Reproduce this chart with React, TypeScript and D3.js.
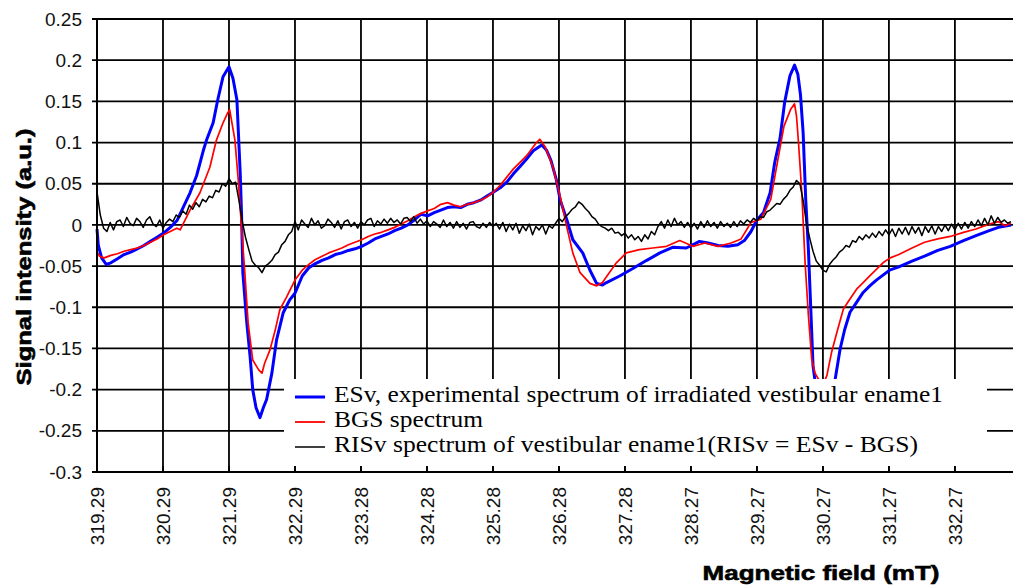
import * as d3 from "d3";

// ---- data ----
const xTickLabels = ["319.29", "320.29", "321.29", "322.29", "323.28", "324.28", "325.28", "326.28", "327.28", "328.27", "329.27", "330.27", "331.27", "332.27"];
const yTickValues = [0.25, 0.2, 0.15, 0.1, 0.05, 0, -0.05, -0.1, -0.15, -0.2, -0.25, -0.3];

const fieldMin = 319.29;
const fieldMax = 333.14;

// ESv (blue): [field mT, intensity]
const esv: [number, number][] = [
    [319.29, -0.005], [319.31, -0.025], [319.36, -0.040], [319.43, -0.048], [319.50, -0.046], [319.60, -0.041],
    [319.70, -0.036], [319.80, -0.033], [319.90, -0.029], [320.00, -0.025], [320.10, -0.020], [320.20, -0.015],
    [320.30, -0.010], [320.40, -0.003], [320.50, 0.005], [320.60, 0.022], [320.70, 0.039], [320.80, 0.060],
    [320.90, 0.090], [320.95, 0.103], [321.05, 0.124], [321.12, 0.152], [321.20, 0.180], [321.29, 0.192],
    [321.35, 0.178], [321.41, 0.152], [321.46, 0.063], [321.48, 0.014], [321.50, -0.058], [321.56, -0.119],
    [321.61, -0.160], [321.65, -0.200], [321.70, -0.222], [321.76, -0.234], [321.81, -0.222], [321.86, -0.212],
    [321.94, -0.180], [322.01, -0.140], [322.11, -0.107], [322.21, -0.091], [322.29, -0.083], [322.40, -0.062],
    [322.50, -0.052], [322.60, -0.047], [322.70, -0.043], [322.80, -0.040], [322.90, -0.036], [323.00, -0.034],
    [323.10, -0.031], [323.20, -0.029], [323.30, -0.026], [323.40, -0.022], [323.50, -0.017], [323.60, -0.014],
    [323.70, -0.011], [323.80, -0.007], [323.90, -0.004], [324.00, 0.000], [324.10, 0.006], [324.20, 0.013],
    [324.30, 0.011], [324.40, 0.015], [324.50, 0.018], [324.60, 0.021], [324.70, 0.022], [324.80, 0.021],
    [324.90, 0.025], [325.00, 0.027], [325.10, 0.030], [325.20, 0.035], [325.30, 0.040], [325.40, 0.045],
    [325.50, 0.052], [325.60, 0.062], [325.70, 0.071], [325.80, 0.080], [325.90, 0.090], [326.03, 0.097],
    [326.10, 0.091], [326.17, 0.078], [326.25, 0.055], [326.31, 0.030], [326.41, 0.006], [326.50, -0.018],
    [326.65, -0.034], [326.76, -0.055], [326.86, -0.071], [326.95, -0.073], [327.01, -0.070], [327.21, -0.062],
    [327.41, -0.053], [327.62, -0.043], [327.82, -0.034], [328.02, -0.027], [328.22, -0.028], [328.42, -0.020],
    [328.55, -0.022], [328.70, -0.025], [328.85, -0.026], [329.00, -0.024], [329.10, -0.019], [329.20, -0.008],
    [329.29, 0.006], [329.39, 0.015], [329.49, 0.039], [329.56, 0.076], [329.64, 0.105], [329.71, 0.149],
    [329.79, 0.181], [329.86, 0.194], [329.91, 0.183], [329.95, 0.158], [329.99, 0.112], [330.03, 0.030],
    [330.07, -0.030], [330.10, -0.090], [330.14, -0.171], [330.18, -0.195], [330.25, -0.225], [330.32, -0.240],
    [330.40, -0.218], [330.47, -0.190], [330.55, -0.151], [330.62, -0.127], [330.70, -0.106], [330.80, -0.094],
    [330.90, -0.082], [331.00, -0.074], [331.10, -0.067], [331.20, -0.061], [331.30, -0.055], [331.44, -0.051],
    [331.64, -0.044], [331.83, -0.038], [332.03, -0.031], [332.22, -0.026], [332.42, -0.019], [332.61, -0.013],
    [332.81, -0.007], [332.95, -0.003], [333.14, 0.000],
];

// BGS (red)
const bgs: [number, number][] = [
    [319.29, -0.033], [319.33, -0.038], [319.40, -0.040], [319.50, -0.037], [319.60, -0.035], [319.70, -0.032],
    [319.80, -0.030], [319.90, -0.028], [320.00, -0.025], [320.10, -0.021], [320.20, -0.017], [320.30, -0.012],
    [320.40, -0.008], [320.50, -0.004], [320.55, -0.006], [320.70, 0.018], [320.85, 0.039], [321.00, 0.070],
    [321.10, 0.103], [321.20, 0.124], [321.27, 0.136], [321.30, 0.140], [321.38, 0.103], [321.43, 0.055],
    [321.48, -0.003], [321.53, -0.058], [321.58, -0.119], [321.65, -0.164], [321.74, -0.176], [321.79, -0.180],
    [321.83, -0.168], [321.91, -0.152], [321.99, -0.128], [322.06, -0.103], [322.16, -0.088], [322.29, -0.067],
    [322.40, -0.055], [322.50, -0.048], [322.60, -0.042], [322.70, -0.038], [322.80, -0.034], [322.90, -0.031],
    [323.00, -0.028], [323.10, -0.024], [323.20, -0.021], [323.30, -0.018], [323.40, -0.014], [323.50, -0.011],
    [323.60, -0.009], [323.70, -0.006], [323.80, -0.003], [323.90, 0.001], [324.00, 0.005], [324.10, 0.010],
    [324.20, 0.014], [324.30, 0.017], [324.40, 0.020], [324.50, 0.025], [324.60, 0.027], [324.70, 0.024],
    [324.80, 0.022], [324.90, 0.025], [325.00, 0.027], [325.10, 0.030], [325.20, 0.034], [325.30, 0.040],
    [325.40, 0.048], [325.50, 0.058], [325.60, 0.068], [325.70, 0.076], [325.80, 0.084], [325.95, 0.100],
    [326.00, 0.104], [326.08, 0.095], [326.20, 0.070], [326.31, 0.034], [326.41, -0.003], [326.50, -0.034],
    [326.61, -0.058], [326.76, -0.071], [326.86, -0.074], [326.95, -0.070], [327.01, -0.063], [327.16, -0.046],
    [327.31, -0.034], [327.51, -0.030], [327.71, -0.028], [327.92, -0.026], [328.12, -0.019], [328.32, -0.026],
    [328.50, -0.022], [328.70, -0.026], [328.90, -0.022], [329.05, -0.017], [329.20, 0.003], [329.35, 0.007],
    [329.50, 0.031], [329.60, 0.076], [329.70, 0.120], [329.80, 0.140], [329.86, 0.147], [329.89, 0.132],
    [329.92, 0.100], [329.97, 0.039], [330.02, -0.046], [330.07, -0.110], [330.12, -0.163], [330.17, -0.180],
    [330.22, -0.187], [330.30, -0.192], [330.35, -0.183], [330.42, -0.155], [330.50, -0.131], [330.60, -0.102],
    [330.70, -0.090], [330.80, -0.078], [330.90, -0.070], [331.00, -0.062], [331.10, -0.054], [331.20, -0.046],
    [331.31, -0.040], [331.44, -0.036], [331.64, -0.028], [331.83, -0.021], [332.03, -0.017], [332.22, -0.014],
    [332.42, -0.009], [332.61, -0.005], [332.81, 0.001], [332.95, 0.004], [333.05, -0.001], [333.14, 0.002],
];

// RISv (black), sampled every 0.05 mT from 319.29
const risvStep = 0.05;
const risv = [
    0.040, 0.012, -0.004, -0.008, 0.003, -0.006, 0.004, 0.006, -0.002, 0.009,
    0.002, -0.001, 0.008, 0.004, -0.003, 0.006, 0.010, 0.001, -0.002, 0.006,
    -0.004, 0.003, 0.007, 0.004, 0.012, 0.009, 0.017, 0.013, 0.024, 0.019,
    0.027, 0.022, 0.031, 0.028, 0.035, 0.033, 0.042, 0.040, 0.050, 0.047,
    0.056, 0.050, 0.052, 0.030, 0.005, -0.015, -0.030, -0.044, -0.049, -0.052,
    -0.058, -0.050, -0.047, -0.043, -0.036, -0.033, -0.024, -0.020, -0.012, -0.008,
    0.004, -0.006, 0.006, 0.001, -0.003, 0.008, 0.000, 0.005, -0.004, -0.001,
    0.007, 0.003, -0.003, 0.005, -0.005, 0.004, 0.006, -0.002, 0.003, -0.004,
    0.004, 0.000, 0.006, 0.008, -0.002, 0.005, 0.001, 0.007, 0.002, 0.008,
    0.003, 0.006, 0.001, 0.008, 0.009, 0.004, 0.010, 0.002, 0.007, 0.001,
    0.005, -0.002, 0.004, 0.001, -0.003, 0.006, -0.002, 0.003, -0.004, 0.004,
    -0.003, 0.002, -0.005, 0.003, 0.004, -0.002, -0.004, 0.002, -0.003, 0.003,
    -0.002, 0.002, -0.005, 0.003, -0.008, 0.001, -0.006, 0.002, -0.010, -0.001,
    -0.007, 0.001, -0.012, -0.002, -0.006, 0.000, -0.011, -0.001, -0.004, 0.002,
    0.008, 0.004, 0.010, 0.014, 0.019, 0.022, 0.028, 0.025, 0.020, 0.016,
    0.010, 0.007, 0.001, -0.002, -0.004, -0.007, -0.004, -0.010, -0.009, -0.013,
    -0.010, -0.016, -0.012, -0.018, -0.014, -0.020, -0.012, -0.017, -0.008, -0.012,
    -0.002, 0.004, -0.004, 0.006, -0.002, 0.008, 0.000, 0.004, -0.003, 0.003,
    -0.004, 0.002, -0.005, 0.004, -0.003, 0.005, -0.002, 0.003, -0.004, 0.004,
    -0.002, 0.002, -0.003, 0.004, -0.002, 0.005, 0.001, 0.006, 0.003, 0.008,
    0.005, 0.010, 0.009, 0.016, 0.018, 0.022, 0.026, 0.025, 0.031, 0.035,
    0.042, 0.046, 0.054, 0.050, 0.030, 0.002, -0.016, -0.032, -0.044, -0.049,
    -0.055, -0.057, -0.048, -0.043, -0.039, -0.033, -0.030, -0.025, -0.027, -0.019,
    -0.021, -0.014, -0.018, -0.012, -0.016, -0.010, -0.015, -0.008, -0.013, -0.006,
    -0.012, -0.005, -0.014, -0.004, -0.011, -0.003, -0.012, -0.002, -0.010, -0.003,
    -0.013, -0.002, -0.009, -0.001, -0.011, -0.002, -0.008, 0.000, -0.007, 0.001,
    -0.006, 0.002, -0.005, 0.003, -0.004, 0.004, -0.002, 0.006, -0.001, 0.008,
    0.000, 0.011, 0.002, 0.009, 0.003, 0.006, 0.002, 0.004,
];

const legendItems = [
    { label: "ESv, experimental spectrum of irradiated vestibular ename1", color: "#0000ff", width: 3, textLen: 609 },
    { label: "BGS spectrum", color: "#ff0000", width: 1.8, textLen: 149 },
    { label: "RISv spectrum of vestibular ename1(RISv = ESv - BGS)", color: "#000000", width: 1.5, textLen: 584 },
];

const App = () => {
    const width = 1013;
    const height = 585;
    const marginLeft = 97;
    const plotRight = 1011;
    const marginTop = 19;
    const plotBottom = 472;

    const x = d3.scaleLinear().domain([fieldMin, fieldMax]).range([marginLeft, plotRight]);
    const y = d3.scaleLinear().domain([-0.3, 0.25]).range([plotBottom, marginTop]);

    const line = d3.line<[number, number]>().x(d => x(d[0])).y(d => y(d[1]));
    const risvPts: [number, number][] = risv.map((v, i) => [fieldMin + i * risvStep, v]);

    const tickX = xTickLabels.map((_, i) => x(fieldMin + i));

    const serif = "'Liberation Serif', 'Times New Roman', serif";
    const sans = "'Liberation Sans', Arial, sans-serif";

    return (
        <div style={{ position: 'absolute', left: 0, top: 0 }}>
            <svg width={width} height={height} style={{ display: 'block', background: '#fff' }}>
                {/* grid */}
                <g stroke="#000" strokeWidth={1.8}>
                    {yTickValues.map(v => (
                        <line key={v} x1={marginLeft - 5} x2={plotRight + 2} y1={y(v)} y2={y(v)} />
                    ))}
                    {tickX.map((tx, i) => (
                        <line key={i} x1={tx} x2={tx} y1={marginTop} y2={plotBottom} />
                    ))}
                </g>

                {/* series */}
                <path d={line(esv) ?? ''} fill="none" stroke="#0000ff" strokeWidth={3} strokeLinejoin="round" />
                <path d={line(bgs) ?? ''} fill="none" stroke="#ff0000" strokeWidth={1.7} strokeLinejoin="round" />
                <path d={line(risvPts) ?? ''} fill="none" stroke="#000" strokeWidth={1.5} strokeLinejoin="round" />

                {/* legend */}
                <rect x={284} y={379} width={703} height={87} fill="#fff" />
                {legendItems.map((item, i) => (
                    <g key={item.label} transform={`translate(295,${397 + i * 25})`}>
                        <line x1={0} x2={30} y1={0} y2={0} stroke={item.color} strokeWidth={item.width} />
                        <text x={39} y={5} fontFamily={serif} fontSize={23} fill="#000"
                              textLength={item.textLen} lengthAdjust="spacingAndGlyphs">{item.label}</text>
                    </g>
                ))}

                {/* axes */}
                <line x1={marginLeft} x2={marginLeft} y1={marginTop} y2={plotBottom} stroke="#000" strokeWidth={2} />
                <line x1={marginLeft} x2={plotRight + 2} y1={plotBottom} y2={plotBottom} stroke="#000" strokeWidth={2} />
                {tickX.map((tx, i) => (
                    <line key={i} x1={tx} x2={tx} y1={plotBottom - 6} y2={plotBottom} stroke="#000" strokeWidth={1.8} />
                ))}

                {/* y tick labels */}
                {yTickValues.map(v => (
                    <text key={v} x={82} y={y(v)} dy="0.35em" textAnchor="end" fontFamily={sans} fontSize={19} fill="#111">
                        {String(v)}
                    </text>
                ))}

                {/* x tick labels */}
                {xTickLabels.map((lab, i) => (
                    <text key={lab} transform={`translate(${tickX[i]},487) rotate(-90)`} dy="0.35em" textAnchor="end"
                          fontFamily={sans} fontSize={19} fill="#111">
                        {lab}
                    </text>
                ))}

                {/* axis titles */}
                <text transform="translate(24,257) rotate(-90)" dy="0.35em" textAnchor="middle" fontFamily={sans}
                      fontSize={21} fontWeight="bold" stroke="#000" strokeWidth={0.6}
                      textLength={257} lengthAdjust="spacingAndGlyphs">Signal intensity (a.u.)</text>
                <text x={821} y={580} textAnchor="middle" fontFamily={sans} fontSize={21} fontWeight="bold"
                      stroke="#000" strokeWidth={0.6} textLength={237} lengthAdjust="spacingAndGlyphs">Magnetic field (mT)</text>
            </svg>
        </div>
    );
};

export default App;
